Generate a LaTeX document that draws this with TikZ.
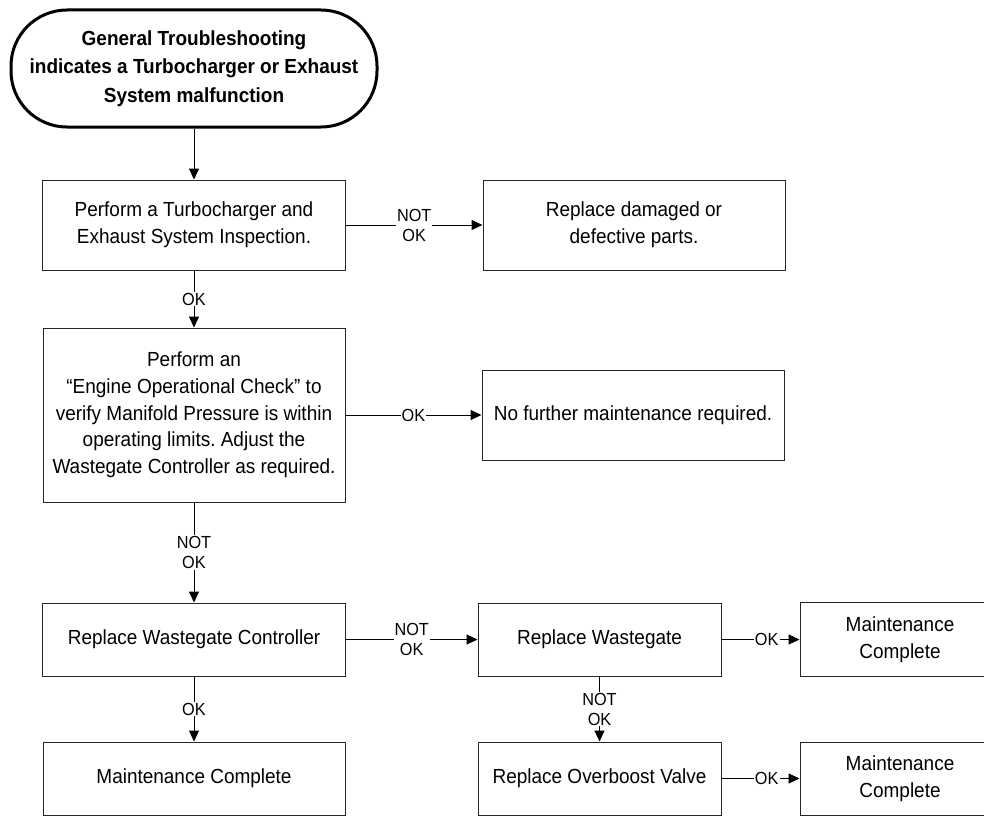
\documentclass[tikz,border=0pt]{standalone}
\usepackage{fontspec}
\setmainfont[FakeStretch=0.93]{Liberation Sans}
\usetikzlibrary{arrows.meta}
\begin{document}
\frenchspacing
\begin{tikzpicture}[x=1pt,y=-1pt,
  box/.style={draw=black!85, line width=1pt, align=center, inner sep=0pt,
    font=\fontsize{20.4}{26.7}\selectfont},
  term/.style={draw=black, line width=3pt, rounded corners=56pt, align=center,
    inner sep=0pt, font=\fontsize{20.4}{28.3}\selectfont\bfseries},
  arr/.style={draw=black, line width=1pt, -{Triangle[length=11pt,width=10pt]}},
  lbl/.style={fill=white, inner sep=1pt, align=center,
    font=\fontsize{17.5}{20}\selectfont}]
\clip (0,0) rectangle (984,816);
\node[term, minimum width=366, minimum height=117] (t) at (194,68.5)
  {General Troubleshooting\\indicates a Turbocharger or Exhaust\\System malfunction};
\node[box, minimum width=303, minimum height=90] (b1) at (194,225)
  {Perform a Turbocharger and\\Exhaust System Inspection.};
\node[box, minimum width=302, minimum height=90] (b2) at (634,225)
  {Replace damaged or\\defective parts.};
\node[box, minimum width=302, minimum height=174] (b3) at (194,415)
  {Perform an\\“Engine Operational Check” to\\verify Manifold Pressure is within\\operating limits. Adjust the\\Wastegate Controller as required.};
\node[box, minimum width=302, minimum height=90] (b4) at (633,415)
  {No further maintenance required.};
\node[box, minimum width=303, minimum height=73] (b5) at (194,639.5)
  {Replace Wastegate Controller};
\node[box, minimum width=243, minimum height=73] (b6) at (599.5,639.5)
  {Replace Wastegate};
\node[box, minimum width=200, minimum height=74] (b7) at (900,639.5)
  {Maintenance\\Complete};
\node[box, minimum width=302, minimum height=73] (b8) at (194,778.5)
  {Maintenance Complete};
\node[box, minimum width=243, minimum height=73] (b9) at (599.5,778.5)
  {Replace Overboost Valve};
\node[box, minimum width=200, minimum height=73] (b10) at (900,778.5)
  {Maintenance\\Complete};
\draw[arr] (t) -- (b1);
\draw[arr] (b1) -- node[lbl]{NOT\\OK} (b2);
\draw[arr] (b1) -- node[lbl]{OK} (b3);
\draw[arr] (b3) -- node[lbl]{OK} (b4);
\draw[arr] (b3) -- node[lbl]{NOT\\OK} (b5);
\draw[arr] (b5) -- node[lbl]{NOT\\OK} (b6);
\draw[arr] (b5) -- node[lbl]{OK} (b8);
\draw[arr] (b6) -- node[lbl, pos=0.58]{OK} (b7);
\draw[arr] (b6) -- node[lbl]{NOT\\OK} (b9);
\draw[arr] (b9) -- node[lbl, pos=0.58]{OK} (b10);
\end{tikzpicture}
\end{document}
